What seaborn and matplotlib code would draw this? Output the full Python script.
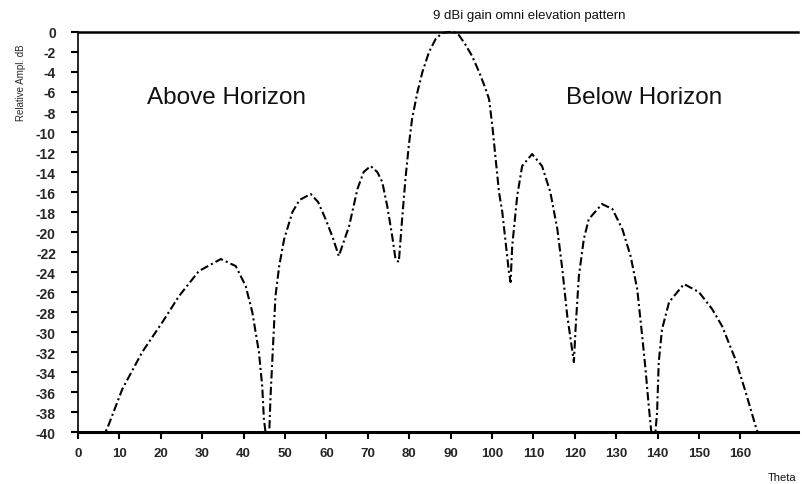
import matplotlib
matplotlib.use("Agg")
import matplotlib.pyplot as plt
import seaborn as sns
import pandas as pd

# ---- data (elevation angle in degrees, relative level in dB)
angle = [0, 6.5, 7.0, 10.7, 15.5, 20.4, 24.4, 29.2, 34.5, 38.1, 40.5, 42.1, 43.7, 44.5, 44.9,
         45.3, 46.2, 46.5, 47.7, 48.6, 49.8, 51.8, 53.5, 56.2, 58.0, 59.8, 61.5, 63.0,
         65.5, 67.5, 69.0, 70.7, 72.3, 73.5, 74.7, 75.9, 76.7, 77.5,
         78.3, 79.1, 79.9, 80.7, 82.0, 83.2, 84.8, 86.4, 88.0, 89.5, 91.0, 92.0, 93.5,
         95.2, 96.9, 98.3, 99.3, 100.1, 100.9, 101.7, 102.5, 103.3, 104.1, 104.5,
         104.9, 106.1, 107.3, 109.7, 112.1, 114.1, 115.8, 117.0, 118.2, 119.8,
         120.2, 121.0, 122.2, 123.4, 126.6, 129.1, 131.5, 133.5, 135.1, 136.3, 137.1, 137.8,
         138.5, 139.5, 139.9, 140.3, 141.1, 142.8, 146.4, 150.0, 153.2, 155.6, 158.8,
         161.3, 163.7, 164.2, 174]
gain = [-40, -40, -39.7, -35.7, -32.0, -29.0, -26.4, -23.9, -22.7, -23.4, -25.4, -28.0, -32.0, -35.4, -38.7,
        -40, -40, -36.5, -26.4, -23.4, -20.7, -18.0, -16.8, -16.2, -17.0, -18.7, -20.5, -22.4,
        -19.4, -15.7, -14.0, -13.4, -14.0, -15.0, -17.4, -20.4, -22.7, -23.0,
        -18.7, -14.7, -11.4, -8.7, -6.0, -4.0, -2.0, -0.7, -0.1, 0.0, -0.05, -0.3, -1.2,
        -2.4, -4.0, -5.5, -6.7, -9.4, -12.7, -16.0, -18.0, -21.0, -24.0, -25.0,
        -21.4, -16.4, -13.4, -12.2, -13.4, -16.0, -19.7, -23.7, -28.4, -33.0,
        -29.7, -24.4, -20.7, -18.7, -17.2, -17.7, -19.7, -22.4, -25.7, -30.4, -33.7, -37.0,
        -40, -40, -38.0, -33.0, -29.7, -27.0, -25.2, -26.0, -27.7, -29.4, -32.7,
        -36.0, -39.4, -40, -40]

x_ticks = [0, 10, 20, 30, 40, 50, 60, 70, 80, 90, 100, 110, 120, 130, 140, 150, 160]
y_ticks = [0, -2, -4, -6, -8, -10, -12, -14, -16, -18, -20, -22, -24, -26, -28,
           -30, -32, -34, -36, -38, -40]

title_text = "9 dBi gain omni elevation pattern"
y_label = "Relative Ampl. dB"
x_label = "Theta"
annot_left = "Above Horizon"
annot_right = "Below Horizon"

sns.set_theme(style="white")
plt.rcParams["font.family"] = ["Liberation Sans", "DejaVu Sans"]
plt.rcParams["axes.unicode_minus"] = False

df = pd.DataFrame({"angle": angle, "gain": gain})

fig = plt.figure(figsize=(8.02, 4.85), dpi=100)
ax = fig.add_axes([0.0973, 0.107, 0.898, 0.825])

sns.lineplot(data=df, x="angle", y="gain", sort=False, estimator=None, ax=ax,
             color="black", linewidth=1.5, linestyle=(0, (4, 1.5, 1, 1.5)))
for ln in ax.lines:
    ln.set_clip_on(False)

ax.set_xlim(0, 174)
ax.set_ylim(-40, 0)
ax.set_xticks(x_ticks)
ax.set_xticklabels([str(v) for v in x_ticks], fontsize=9.5, fontweight="bold")
ax.set_yticks(y_ticks)
ax.set_yticklabels([str(v) for v in y_ticks], fontsize=10, fontweight="bold")
ax.tick_params(axis="both", direction="out", length=5, width=1.5, color="black",
               left=True, bottom=True)
ax.tick_params(axis="y", pad=11)
ax.tick_params(axis="x", pad=6)
for s in ["left", "bottom", "top"]:
    ax.spines[s].set_color("black")
ax.spines["left"].set_linewidth(1.2)
ax.spines["bottom"].set_linewidth(2.2)
ax.spines["top"].set_linewidth(1.8)
ax.spines["right"].set_visible(False)
ax.set_xlabel("")
ax.set_ylabel(y_label, fontsize=7)
ax.yaxis.set_label_coords(-0.072, 0.875)

ax.text(16.6, -6.5, annot_left, fontsize=17.5, va="center", ha="left", color="#111111")
ax.text(117.9, -6.5, annot_right, fontsize=17.5, va="center", ha="left", color="#111111")

fig.text(0.66, 0.968, title_text, fontsize=9.5, ha="center", va="center", color="#111111")
fig.text(0.975, 0.005, x_label, fontsize=8, ha="center", va="bottom", color="#111111")

fig.savefig("out.png", dpi=100, facecolor="white")
